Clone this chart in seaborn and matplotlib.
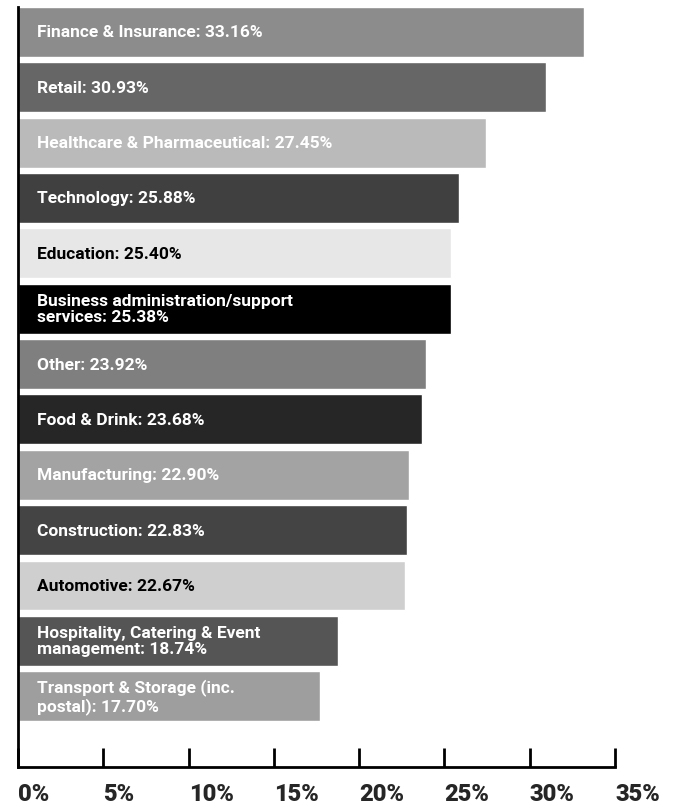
import pandas as pd
import seaborn as sns
from matplotlib import pyplot as plt
from matplotlib.ticker import FuncFormatter

sectors = ['Finance & Insurance', 'Retail', 'Healthcare & Pharmaceutical', 'Technology',
           'Education', 'Business administration/support\nservices', 'Other', 'Food & Drink',
           'Manufacturing', 'Construction', 'Automotive',
           'Hospitality, Catering & Event\nmanagement', 'Transport & Storage (inc.\npostal)']
shares = [33.16, 30.93, 27.45, 25.88, 25.40, 25.38, 23.92, 23.68, 22.90, 22.83, 22.67, 18.74, 17.70]
bar_colors = ['#8c8c8c', '#666666', '#bababa', '#404040', '#e7e7e7', '#000000', '#7f7f7f',
              '#262626', '#a3a3a3', '#444444', '#cfcfcf', '#555555', '#9e9e9e']
text_colors = ['white', 'white', 'white', 'white', 'black', 'white', 'white',
               'white', 'white', 'white', 'black', 'white', 'white']

df = pd.DataFrame({'sector': sectors, 'share': shares})

sns.set_style("white")
plt.rcParams['font.family'] = ['Roboto', 'DejaVu Sans']

fig = plt.figure(figsize=(6.81, 8.12), dpi=100)
ax = fig.add_axes([18 / 681, (812 - 768) / 812, (615 - 18) / 681, (768 - 8) / 812])

sns.barplot(data=df, x='share', y='sector', hue='sector', palette=bar_colors,
            legend=False, width=0.9, saturation=1, ax=ax)

for i, (name, val) in enumerate(zip(sectors, shares)):
    label = f"{name}: {val:.2f}%"
    ax.annotate(label, xy=(0, i), xytext=(14, 0), textcoords='offset points',
                va='center', ha='left', color=text_colors[i], fontsize=12.5,
                fontweight='bold', linespacing=1.1)

ax.set_xlim(0, 35)
ax.set_ylim(13.28, -0.45)
ax.set_xticks(range(0, 36, 5))
ax.xaxis.set_major_formatter(FuncFormatter(lambda v, p: f"{v:.0f}%"))
ax.set_yticks([])
ax.set_xlabel('')
ax.set_ylabel('')
for s in ['top', 'right']:
    ax.spines[s].set_visible(False)
for s in ['left', 'bottom']:
    ax.spines[s].set_color('black')
    ax.spines[s].set_linewidth(2)
ax.tick_params(axis='x', bottom=True, direction='in', length=14, width=2, color='black',
               pad=11, labelsize=17)
for t in ax.get_xticklabels():
    t.set_fontweight('heavy')
    t.set_horizontalalignment('left')

plt.savefig('out.png', dpi=100)
